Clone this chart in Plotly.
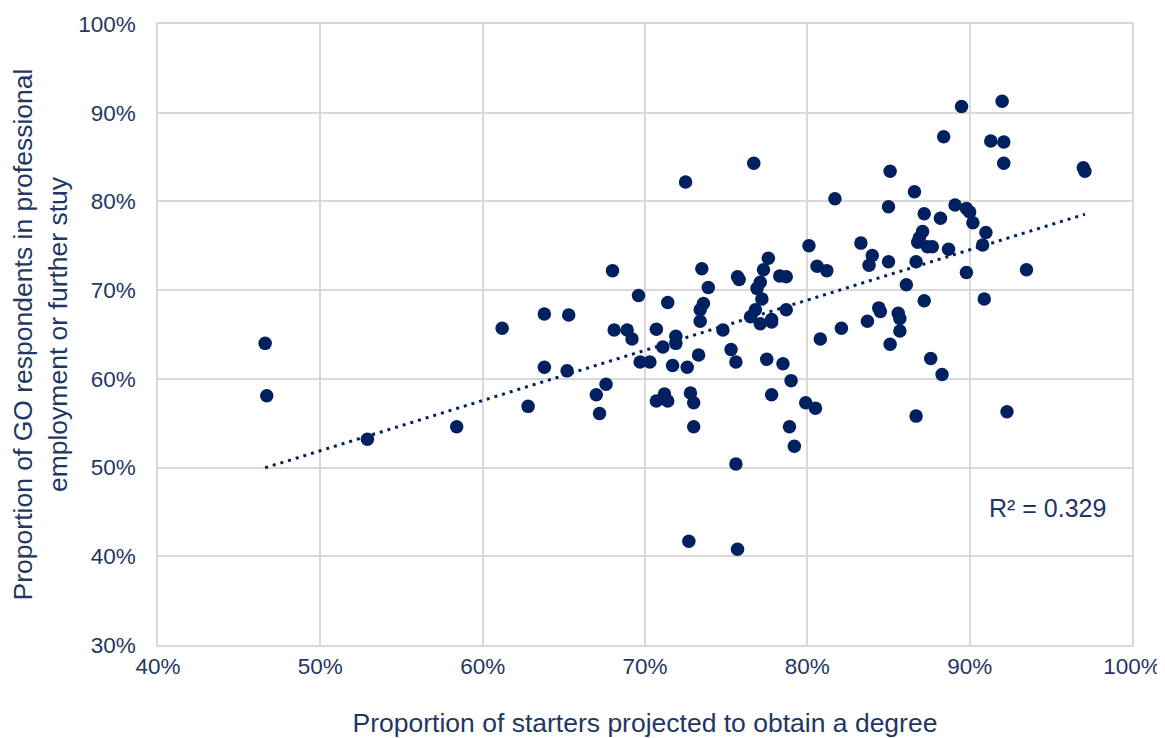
import plotly.graph_objects as go

# Proportion of starters projected to obtain a degree (%)
degree_pct = [
    46.6, 46.7, 52.9, 58.4, 61.2, 62.8, 63.8, 63.8, 65.3, 65.2,
    67.0, 67.2, 67.6, 68.0, 68.1, 68.9, 69.2, 69.6, 69.7, 70.3,
    70.7, 70.7, 71.2, 71.4, 71.1, 71.4, 71.7, 71.9, 71.9, 72.5,
    72.6, 72.7, 72.8, 73.0, 73.0, 73.3, 73.4, 73.4, 73.5, 73.6,
    73.9, 74.8, 75.3, 75.6, 75.6, 75.7, 75.7, 75.8, 76.5, 76.8,
    76.7, 76.9, 77.1, 77.1, 77.2, 77.3, 77.5, 77.6, 77.8, 77.8,
    77.8, 78.3, 78.7, 78.5, 78.7, 78.9, 79.0, 79.2, 79.9, 80.1,
    80.5, 80.6, 81.2, 80.8, 81.7, 82.1, 83.3, 83.7, 83.8, 84.0,
    84.4, 84.5, 85.0, 85.0, 85.1, 85.1, 85.6, 85.7, 85.7, 86.1,
    86.6, 86.7, 86.7, 86.8, 86.9, 87.1, 87.2, 87.2, 87.4, 87.7,
    87.6, 88.2, 88.4, 88.3, 88.7, 89.1, 89.5, 89.8, 90.0, 89.8,
    90.2, 90.8, 90.9, 91.0, 91.3, 92.0, 92.1, 92.1, 92.3, 93.5,
    97.0, 97.1,
]

# Proportion of GO respondents in professional employment or further study (%)
go_pct = [
    64.0, 58.1, 53.2, 54.6, 65.7, 56.9, 67.3, 61.3, 67.2, 60.9,
    58.2, 56.1, 59.4, 72.2, 65.5, 65.5, 64.5, 69.4, 61.9, 61.9,
    65.6, 57.5, 58.3, 57.5, 63.6, 68.6, 61.5, 64.8, 64.0, 82.2,
    61.3, 41.7, 58.4, 57.3, 54.6, 62.7, 67.8, 66.5, 72.4, 68.5,
    70.3, 65.5, 63.3, 61.9, 50.4, 40.8, 71.5, 71.2, 67.0, 67.8,
    84.3, 70.2, 70.9, 66.2, 69.0, 72.3, 62.2, 73.6, 58.2, 66.7,
    66.4, 71.6, 71.5, 61.7, 67.8, 54.6, 59.8, 52.4, 57.3, 75.0,
    56.7, 72.7, 72.2, 64.5, 80.3, 65.7, 75.3, 66.5, 72.8, 73.9,
    68.0, 67.6, 73.2, 79.4, 83.4, 63.9, 67.4, 66.8, 65.4, 70.6,
    81.1, 73.2, 55.8, 75.4, 75.9, 76.6, 78.6, 68.8, 74.9, 74.9,
    62.3, 78.1, 87.3, 60.5, 74.6, 79.6, 90.7, 79.2, 78.8, 72.0,
    77.6, 75.1, 69.0, 76.5, 86.8, 91.3, 86.7, 84.3, 56.3, 72.3,
    83.8, 83.4,
]

# Linear trendline as shown in the chart
trend_slope = 0.566
trend_intercept = 23.6
r2_label = "R² = 0.329"

x_ticks = [40, 50, 60, 70, 80, 90, 100]
y_ticks = [30, 40, 50, 60, 70, 80, 90, 100]

NAVY = "#002060"
TEXT = "#1F3763"
GRID = "#D9D9D9"
FONT = "Liberation Sans, Arial, sans-serif"

trend_x = [min(degree_pct), max(degree_pct)]
trend_y = [trend_slope * v + trend_intercept for v in trend_x]

fig = go.Figure()
fig.add_trace(go.Scatter(
    x=trend_x, y=trend_y, mode="lines",
    line=dict(color=NAVY, width=3, dash="3px,5px"),
    hoverinfo="skip", showlegend=False,
))
fig.add_trace(go.Scatter(
    x=degree_pct, y=go_pct, mode="markers",
    marker=dict(color=NAVY, size=13.5, line=dict(width=0)),
    showlegend=False,
))

fig.add_annotation(
    x=94.8, y=45.4, xref="x", yref="y", text=r2_label, showarrow=False,
    font=dict(family=FONT, size=25, color=TEXT),
)

fig.update_xaxes(
    range=[40, 100], tickvals=x_ticks, ticktext=[f"{v}%" for v in x_ticks],
    showgrid=True, gridcolor=GRID, gridwidth=1.5,
    showline=True, linecolor=GRID, linewidth=1.5, mirror=True,
    zeroline=False, ticks="", ticklen=0, ticklabelstandoff=0, automargin=False,
    tickfont=dict(family=FONT, size=22.5, color=TEXT),
    title=dict(text="Proportion of starters projected to obtain a degree",
               font=dict(family=FONT, size=26.5, color=TEXT), standoff=36),
)
fig.update_yaxes(
    range=[30, 100], tickvals=y_ticks, ticktext=[f"{v}%" for v in y_ticks],
    showgrid=True, gridcolor=GRID, gridwidth=1.5,
    showline=True, linecolor=GRID, linewidth=1.5, mirror=True,
    zeroline=False, ticks="", ticklen=0, ticklabelstandoff=16, automargin=False,
    tickfont=dict(family=FONT, size=22.5, color=TEXT),
    title=dict(text="Proportion of GO respondents in professional<br>employment or further stuy",
               font=dict(family=FONT, size=26.5, color=TEXT), standoff=3),
)

# page body has an 8px margin, so the figure is sized to fit the 1165x738 window
fig.update_layout(
    width=1157, height=730,
    margin=dict(l=150, r=33, t=16, b=93, pad=0),
    plot_bgcolor="white", paper_bgcolor="white",
    font=dict(family=FONT, color=TEXT),
)

fig.write_html("out.html")
